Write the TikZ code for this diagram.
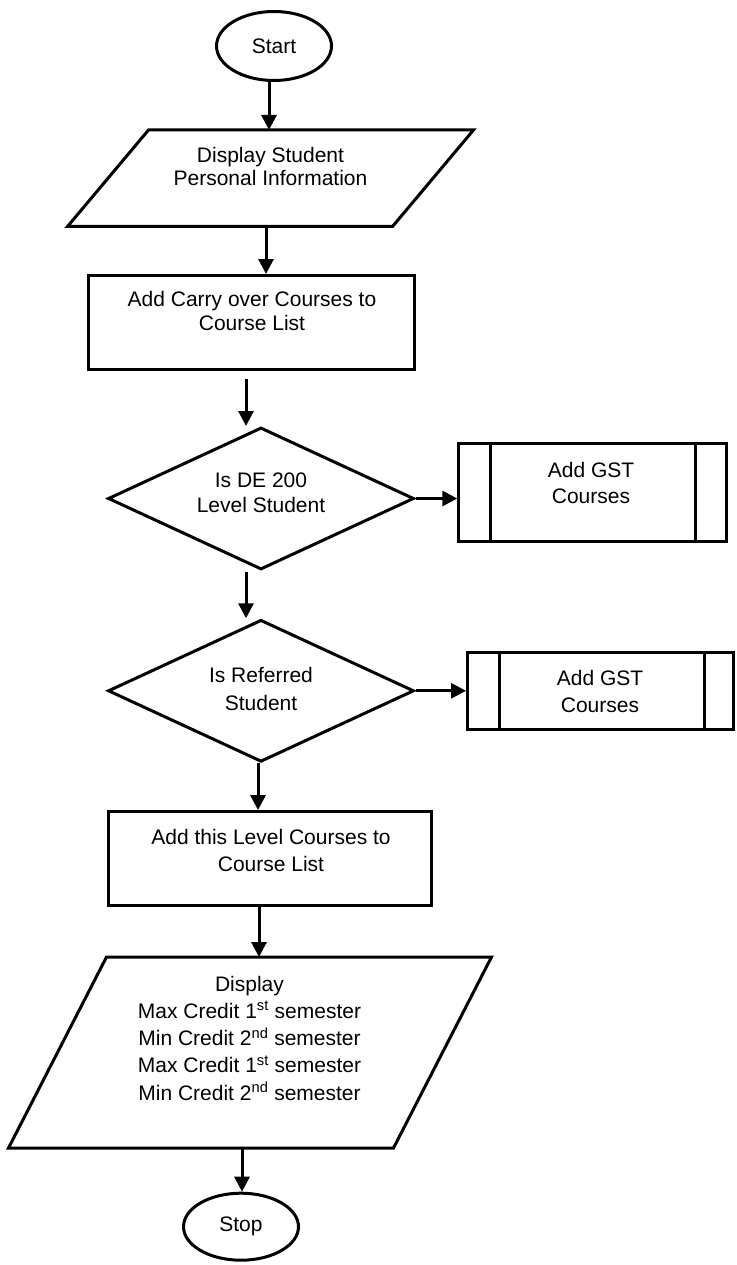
\documentclass[tikz,border=0pt]{standalone}
\usepackage{fontspec}
\setmainfont{Liberation Sans}
\usetikzlibrary{shapes.geometric,arrows.meta}
\begin{document}
\begin{tikzpicture}[x=1pt,y=-1pt,
  every node/.style={inner sep=0pt},
  shapeline/.style={draw=black,line width=3pt},
  holder/.style={line width=3pt},
  terminal/.style={shapeline,ellipse,minimum width=115pt,minimum height=69pt,
    font=\fontsize{21}{24}\selectfont},
  procbox/.style={shapeline,rectangle},
  decision/.style={shapeline,diamond,minimum width=306pt,minimum height=142pt},
  blocktext/.style={align=center,anchor=north},
  flow/.style={line width=3pt,-{Triangle[length=15pt,width=15pt]}},
]
\useasboundingbox (0,0) rectangle (736,1265);

% start / stop terminals
\node[terminal] (start) at (274,46) {Start};
\node[terminal,minimum height=67pt] (stop) at (241,1226.7) {Stop};

% input/output: student information
\node[holder,minimum width=403pt,minimum height=93.5pt] (disp1) at (270.5,178.25) {};
\draw[shapeline] ([xshift=81pt]disp1.north west) -- (disp1.north east)
  -- ([xshift=-81pt]disp1.south east) -- (disp1.south west) -- cycle;
\node[blocktext,font=\fontsize{21}{23.5}\selectfont] (t1) at (270.5,146.6)
  {Display Student\\Personal Information};

% process: carry over courses
\node[procbox,minimum width=326pt,minimum height=94pt] (box1) at (251.5,322.5) {};
\node[blocktext,font=\fontsize{21}{24}\selectfont] (t2) at (252,290.9)
  {Add Carry over Courses to\\Course List};

% decision: DE 200 level
\node[decision] (dec1) at (261,498.5) {};
\node[blocktext,font=\fontsize{21}{24.7}\selectfont] (t3) at (261,472.9)
  {Is DE 200\\Level Student};

% predefined process: GST courses (first)
\node[procbox,minimum width=268pt,minimum height=98.6pt] (gst1) at (592.8,492.5) {};
\draw[shapeline] ([xshift=32.7pt]gst1.north west) -- ([xshift=32.7pt]gst1.south west);
\draw[shapeline] ([xshift=-33.3pt]gst1.north east) -- ([xshift=-33.3pt]gst1.south east);
\node[blocktext,font=\fontsize{21}{26.3}\selectfont] (t4) at (591,461.6)
  {Add GST\\Courses};

% decision: referred student
\node[decision] (dec2) at (261,690.8) {};
\node[blocktext,font=\fontsize{21}{28.3}\selectfont] (t5) at (261,666.6)
  {Is Referred\\Student};

% predefined process: GST courses (second)
\node[procbox,minimum width=266pt,minimum height=77pt] (gst2) at (600.5,691) {};
\draw[shapeline] ([xshift=33.5pt]gst2.north west) -- ([xshift=33.5pt]gst2.south west);
\draw[shapeline] ([xshift=-30.7pt]gst2.north east) -- ([xshift=-30.7pt]gst2.south east);
\node[blocktext,font=\fontsize{21}{26.7}\selectfont] (t6) at (600,669.9)
  {Add GST\\Courses};

% process: this level courses
\node[procbox,minimum width=323.6pt,minimum height=93.7pt] (box2) at (270,858.4) {};
\node[blocktext,font=\fontsize{21}{27}\selectfont] (t7) at (271,828.9)
  {Add this Level Courses to\\Course List};

% input/output: credit limits
\node[holder,minimum width=480pt,minimum height=188pt] (disp2) at (250,1052.5) {};
\draw[shapeline] ([xshift=98pt]disp2.north west) -- (disp2.north east)
  -- ([xshift=-98pt]disp2.south east) -- (disp2.south west) -- cycle;
\node[blocktext,font=\fontsize{21}{27.3}\selectfont] (t8) at (249.5,975.6)
  {Display\\
   Max Credit 1\textsuperscript{st} semester\\
   Min Credit 2\textsuperscript{nd} semester\\
   Max Credit 1\textsuperscript{st} semester\\
   Min Credit 2\textsuperscript{nd} semester};

% flow connectors
\draw[flow] ([xshift=-5pt]start.south) -- ([xshift=-1.5pt]disp1.north);
\draw[flow] ([xshift=-4.5pt]disp1.south) -- ([xshift=14.5pt]box1.north);
\draw[flow] ([xshift=-5.5pt,yshift=-8pt]box1.south) -- ([xshift=-15pt]dec1.north);
\draw[flow] (dec1.east) -- (dec1.east -| gst1.west);
\draw[flow] ([xshift=-15pt,yshift=-1pt]dec1.south) -- ([xshift=-15pt]dec2.north);
\draw[flow] (dec2.east) -- (dec2.east -| gst2.west);
\draw[flow] ([xshift=-3pt]dec2.south) -- ([xshift=-12pt]box2.north);
\draw[flow] ([xshift=-11pt]box2.south) -- ([xshift=9pt]disp2.north);
\draw[flow] ([xshift=-8pt]disp2.south) -- ([xshift=1pt]stop.north);
\end{tikzpicture}
\end{document}
